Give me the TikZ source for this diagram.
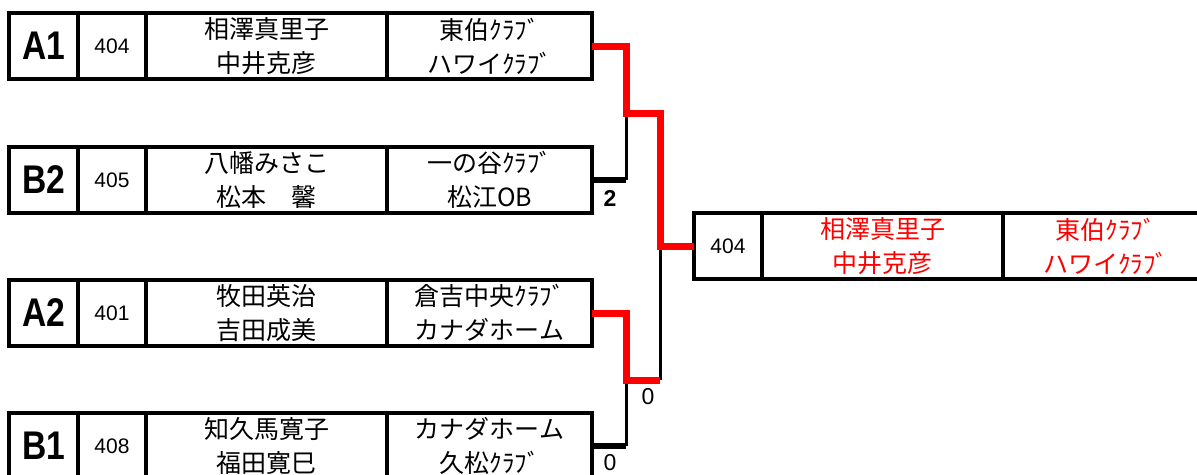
\documentclass[tikz,border=0pt]{standalone}
\usepackage{fontspec}
\setmainfont{Liberation Sans}
\newfontfamily\jp{Noto Sans CJK JP}
\newcommand\entrybox[8]{%
  \node[lab] (#1l) at (9,#2) {\scalebox{0.84}[1]{#3}};
  \node[num] (#1n) at (#1l.east) {#4};
  \node[ppl] (#1p) at (#1n.east) {#5\\#6};
  \node[club] (#1c) at (#1p.east) {#7\\#8};
}
\begin{document}
\begin{tikzpicture}[x=1pt,y=-1pt,
  cell/.style={draw, line width=3.5pt, minimum height=66pt, inner sep=0pt, outer sep=0pt, anchor=west, align=center},
  lab/.style={cell, minimum width=69pt, font=\fontsize{40}{40}\selectfont\bfseries},
  num/.style={cell, minimum width=68pt, font=\fontsize{21}{24}\selectfont},
  ppl/.style={cell, minimum width=241pt, font=\jp\fontsize{25}{34}\selectfont},
  club/.style={cell, minimum width=205pt, font=\jp\fontsize{25}{34}\selectfont},
  redline/.style={red, line width=7pt},
  blkline/.style={black, line width=3pt},
  blkh/.style={black, line width=5.5pt},
  score/.style={font=\fontsize{23}{26}\selectfont, inner sep=0pt}]
\useasboundingbox (0,0) rectangle (1197,474);

\entrybox{A1}{46}{A1}{404}{相澤真里子}{中井克彦}{東伯ｸﾗﾌﾞ}{ハワイｸﾗﾌﾞ}
\entrybox{B2}{180}{B2}{405}{八幡みさこ}{松本　馨}{一の谷ｸﾗﾌﾞ}{松江OB}
\entrybox{A2}{313}{A2}{401}{牧田英治}{吉田成美}{倉吉中央ｸﾗﾌﾞ}{カナダホーム}
\entrybox{B1}{446}{B1}{408}{知久馬寛子}{福田寛巳}{カナダホーム}{久松ｸﾗﾌﾞ}

\node[num] (Wn) at (694,246) {404};
\node[ppl, text=red] (Wp) at (Wn.east) {相澤真里子\\中井克彦};
\node[club, text=red] (Wc) at (Wp.east) {東伯ｸﾗﾌﾞ\\ハワイｸﾗﾌﾞ};

\coordinate (j1) at (626,113);
\coordinate (j2) at (626,380);
\coordinate (m1) at (660,113);
\coordinate (m2) at (660,380);
\coordinate (j3) at (660,246);

\draw[blkh] (B2c.east) -- (B2c.east -| j1);
\draw[blkline] (B2c.east -| j1) -- (j1);
\draw[blkh] (B1c.east) -- (B1c.east -| j2);
\draw[blkline] (B1c.east -| j2) -- (j2);
\draw[blkline] (m2) -- (j3);

\draw[redline] (A1c.east) -- (A1c.east -| j1) -- (j1) -- (m1) -- (j3) -- (Wn.west);
\draw[redline] (A2c.east) -- (A2c.east -| j2) -- (j2) -- (m2);

\node[score, font=\fontsize{23}{26}\selectfont\bfseries] (s1) at (610,198) {2};
\node[score] (s2) at (648,397) {0};
\node[score] (s3) at (610,463) {0};
\end{tikzpicture}
\end{document}
